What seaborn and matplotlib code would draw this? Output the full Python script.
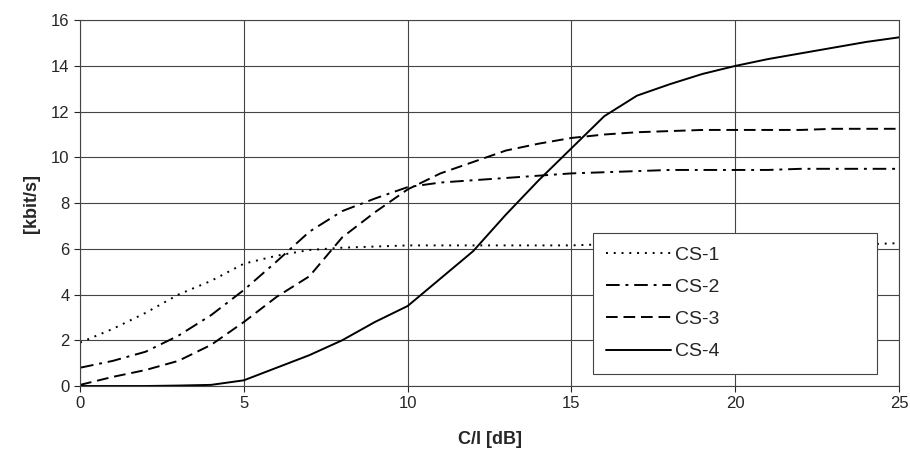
import numpy as np
import pandas as pd
import seaborn as sns
import matplotlib.pyplot as plt

# C/I values in dB
ci_db = list(range(0, 26))

# throughput per coding scheme [kbit/s]
cs1 = [1.9, 2.5, 3.2, 4.0, 4.6, 5.35, 5.7, 5.95, 6.05, 6.1, 6.15, 6.15, 6.15, 6.15, 6.15,
       6.15, 6.2, 6.2, 6.2, 6.2, 6.2, 6.2, 6.2, 6.2, 6.2, 6.25]
cs2 = [0.8, 1.1, 1.5, 2.2, 3.1, 4.2, 5.45, 6.75, 7.65, 8.2, 8.7, 8.9, 9.0, 9.1, 9.2,
       9.3, 9.35, 9.4, 9.45, 9.45, 9.45, 9.45, 9.5, 9.5, 9.5, 9.5]
cs3 = [0.05, 0.4, 0.7, 1.1, 1.8, 2.8, 3.9, 4.8, 6.5, 7.6, 8.6, 9.3, 9.8, 10.3, 10.6,
       10.85, 11.0, 11.1, 11.15, 11.2, 11.2, 11.2, 11.2, 11.25, 11.25, 11.25]
cs4 = [0.0, 0.0, 0.0, 0.02, 0.05, 0.25, 0.8, 1.35, 2.0, 2.8, 3.5, 4.7, 5.9, 7.5, 9.0,
       10.4, 11.8, 12.7, 13.2, 13.65, 14.0, 14.3, 14.55, 14.8, 15.05, 15.25]

schemes = ['CS-1', 'CS-2', 'CS-3', 'CS-4']

df = pd.DataFrame({
    'ci': ci_db * 4,
    'rate': cs1 + cs2 + cs3 + cs4,
    'scheme': np.repeat(schemes, len(ci_db)),
})

sns.set_style('white')
plt.rcParams['font.family'] = ['Liberation Sans', 'DejaVu Sans']

fig = plt.figure(figsize=(9.1, 4.59), dpi=100)
ax = fig.add_axes([0.088, 0.159, 0.9, 0.797])

dash_styles = {'CS-1': (1, 3), 'CS-2': (7, 3, 1.5, 3), 'CS-3': (6, 3), 'CS-4': ''}
sns.lineplot(data=df, x='ci', y='rate', style='scheme', dashes=dash_styles,
             color='black', linewidth=1.4, ax=ax)

ax.set_xlim(0, 25)
ax.set_ylim(0, 16)
ax.set_xticks(range(0, 26, 5))
ax.set_yticks(range(0, 17, 2))
ax.grid(True, color='#444444', linewidth=0.8)
ax.tick_params(axis='both', labelsize=12, length=4, direction='out', bottom=True, left=True)
for s in ax.spines.values():
    s.set_color('#444444')
    s.set_linewidth(0.8)

ax.set_xlabel('C/I [dB]', fontsize=13, fontweight='bold', labelpad=14)
ax.set_ylabel('[kbit/s]', fontsize=13, fontweight='bold', labelpad=8)

leg = ax.legend(loc='lower left', bbox_to_anchor=(0.626, 0.033, 0.347, 0.385),
                mode='expand', borderaxespad=0, fontsize=14, handlelength=3.3,
                handletextpad=0.25, labelspacing=0.75, borderpad=0.7, fancybox=False,
                framealpha=1, edgecolor='#444444', title=None)
leg.get_frame().set_linewidth(0.8)

fig.savefig('out.png', dpi=100)
